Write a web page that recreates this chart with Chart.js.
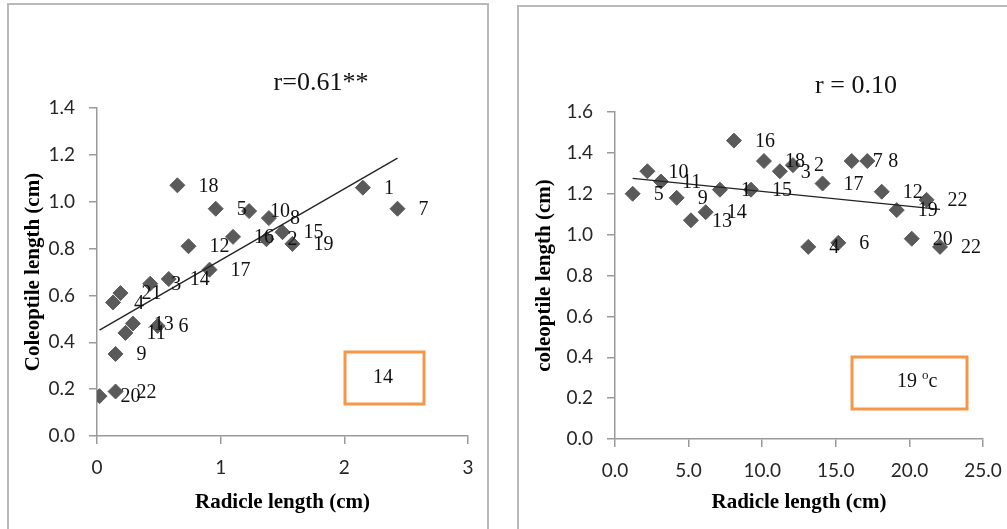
<!DOCTYPE html>
<html>
<head>
<meta charset="utf-8">
<script src="https://cdn.jsdelivr.net/npm/chart.js@4.4.1/dist/chart.umd.min.js"></script>
<style>
  html, body { margin:0; padding:0; background:#fff; width:1007px; height:529px; overflow:hidden; }
  .panel { position:absolute; border:2px solid #b9b9b9; box-sizing:border-box; background:transparent; }
  canvas { position:absolute; top:0; }
</style>
</head>
<body>
<div class="panel" style="left:7px; top:3px; width:482px; height:600px;"></div>
<div class="panel" style="left:517px; top:5px; width:600px; height:600px;"></div>
<canvas id="c1" width="500" height="529" style="left:0px;"></canvas>
<canvas id="c2" width="507" height="529" style="left:500px;"></canvas>
<script>
// ---------- Left panel data (14) ----------
const leftLabels = ['1','2','3','4','5','6','7','8','9','10','11','12','13','14','15','16','17','18','19','20','21','22'];
const leftRadicle = [2.15,1.37,0.43,0.13,0.96,0.49,2.43,1.39,0.15,1.23,0.23,0.74,0.29,0.58,1.50,1.10,0.91,0.65,1.58,0.02,0.19,0.15];
const leftColeoptile = [1.06,0.84,0.65,0.57,0.97,0.47,0.97,0.93,0.35,0.96,0.44,0.81,0.48,0.67,0.87,0.85,0.71,1.07,0.82,0.17,0.61,0.19];
const leftTrendX = [0.02, 2.43];
const leftTrendY = [0.452, 1.186];
const leftXTicks = [0, 1, 2, 3];
const leftYTicks = [0, 0.2, 0.4, 0.6, 0.8, 1.0, 1.2, 1.4];

// ---------- Right panel data (19 ºc) ----------
const rightLabels = ['5','10','11','9','13','14','1','15','16','18','3','2','17','7','8','12','22','19','4','6','20','22'];
const rightRadicle = [1.2,2.2,3.12,4.19,5.16,6.16,7.13,9.24,8.08,10.12,11.2,12.09,14.1,16.08,17.14,18.12,21.17,19.14,13.13,15.17,20.16,22.08];
const rightColeoptile = [1.20,1.31,1.26,1.18,1.07,1.11,1.22,1.22,1.46,1.36,1.31,1.34,1.25,1.36,1.36,1.21,1.17,1.12,0.94,0.96,0.98,0.94];
const rightTrendX = [1.2, 22.08];
const rightTrendY = [1.275, 1.124];
const rightXTicks = [0, 5, 10, 15, 20, 25];
const rightYTicks = [0, 0.2, 0.4, 0.6, 0.8, 1.0, 1.2, 1.4, 1.6];

const AXIS_COLOR = '#9a9a9a';
const TICK_FONT = { family: 'Lato', size: 19 };
const TITLE_FONT = { family: 'Liberation Serif', size: 21, weight: 'bold' };

function toPoints(xs, ys) { return xs.map((x, i) => ({ x: x, y: ys[i] })); }

const pointLabelPlugin = {
  id: 'pointLabels',
  afterDatasetsDraw(chart) {
    const ctx = chart.ctx;
    chart.data.datasets.forEach((ds, di) => {
      if (!ds.pointLabels) return;
      const meta = chart.getDatasetMeta(di);
      ctx.save();
      ctx.font = '20px "Liberation Serif"';
      ctx.fillStyle = '#111';
      ctx.textAlign = 'left';
      ctx.textBaseline = 'middle';
      meta.data.forEach((el, i) => {
        ctx.fillText(ds.pointLabels[i], el.x + 21, el.y + 1);
      });
      ctx.restore();
    });
  }
};

const annotationPlugin = {
  id: 'notes',
  afterDraw(chart, args, opts) {
    const ctx = chart.ctx;
    ctx.save();
    ctx.font = '26px "Liberation Serif"';
    ctx.fillStyle = '#111';
    ctx.textAlign = 'center';
    ctx.textBaseline = 'middle';
    ctx.fillText(opts.rText, opts.rX, opts.rY);
    ctx.strokeStyle = '#F79646';
    ctx.lineWidth = 3;
    ctx.strokeRect(opts.box[0], opts.box[1], opts.box[2], opts.box[3]);
    ctx.font = '20px "Liberation Serif"';
    ctx.textAlign = 'left';
    let x = opts.boxTextX;
    const y = opts.boxTextY;
    ctx.fillText(opts.boxText, x, y);
    if (opts.boxSup) {
      x += ctx.measureText(opts.boxText).width;
      ctx.font = '13px "Liberation Serif"';
      ctx.fillText(opts.boxSup, x, y - 6);
      x += ctx.measureText(opts.boxSup).width;
      ctx.font = '20px "Liberation Serif"';
      ctx.fillText(opts.boxTail, x, y);
    }
    ctx.restore();
  }
};

function makeChart(id, cfg) {
  return new Chart(document.getElementById(id), {
    type: 'scatter',
    data: {
      datasets: [
        {
          data: toPoints(cfg.xs, cfg.ys),
          pointLabels: cfg.labels,
          pointStyle: 'rectRot',
          pointRadius: 7.5,
          pointBackgroundColor: '#5a5a5a',
          pointBorderColor: '#5a5a5a',
          pointBorderWidth: 1,
          showLine: false,
          order: 1
        },
        {
          type: 'line',
          data: toPoints(cfg.tx, cfg.ty),
          borderColor: '#222',
          borderWidth: 1.3,
          pointRadius: 0,
          showLine: true,
          fill: false,
          order: 0
        }
      ]
    },
    options: {
      responsive: false,
      animation: false,
      events: [],
      layout: { padding: { left: 0, top: cfg.top, right: cfg.right, bottom: 0 } },
      plugins: {
        legend: { display: false },
        tooltip: { enabled: false },
        notes: cfg.notes
      },
      scales: {
        x: {
          type: 'linear',
          min: cfg.xTicks[0], max: cfg.xTicks[cfg.xTicks.length - 1],
          afterBuildTicks: (s) => { s.ticks = cfg.xTicks.map(v => ({ value: v })); },
          afterFit: (s) => { s.height = cfg.xHeight; s.paddingLeft = 0; s.paddingRight = 0; },
          border: { display: true, color: AXIS_COLOR, width: 1.5 },
          grid: { display: true, drawOnChartArea: false, drawTicks: true, tickLength: 8, color: AXIS_COLOR, lineWidth: 1.5 },
          ticks: { font: TICK_FONT, color: '#262626', padding: 12, maxRotation: 0, autoSkip: false,
                   callback: (v) => cfg.xFmt(v) },
          title: { display: true, text: 'Radicle length (cm)', font: TITLE_FONT, color: '#000',
                   padding: { top: 0, bottom: 14 } }
        },
        y: {
          type: 'linear',
          min: cfg.yTicks[0], max: cfg.yTicks[cfg.yTicks.length - 1],
          afterBuildTicks: (s) => { s.ticks = cfg.yTicks.map(v => ({ value: v })); },
          afterFit: (s) => { s.width = cfg.yWidth; s.paddingTop = 0; s.paddingBottom = 0; },
          border: { display: true, color: AXIS_COLOR, width: 1.5 },
          grid: { display: true, drawOnChartArea: false, drawTicks: true, tickLength: 8, color: AXIS_COLOR, lineWidth: 1.5 },
          ticks: { font: TICK_FONT, color: '#262626', padding: 14, autoSkip: false,
                   callback: (v) => Number(v).toFixed(1) },
          title: { display: true, text: cfg.yTitle, font: TITLE_FONT, color: '#000',
                   padding: { top: cfg.yTitlePad, bottom: 0 } }
        }
      }
    },
    plugins: [pointLabelPlugin, annotationPlugin]
  });
}

makeChart('c1', {
  xs: leftRadicle, ys: leftColeoptile, labels: leftLabels,
  tx: leftTrendX, ty: leftTrendY,
  xTicks: leftXTicks, yTicks: leftYTicks,
  xFmt: (v) => String(v),
  top: 108, right: 32, xHeight: 93, yWidth: 97,
  yTitle: 'Coleoptile length (cm)', yTitlePad: 21,
  notes: { rText: 'r=0.61**', rX: 321, rY: 83, box: [345, 352, 79, 52],
           boxText: '14', boxTextX: 373, boxTextY: 378 }
});

makeChart('c2', {
  xs: rightRadicle, ys: rightColeoptile, labels: rightLabels,
  tx: rightTrendX, ty: rightTrendY,
  xTicks: rightXTicks, yTicks: rightYTicks,
  xFmt: (v) => Number(v).toFixed(1),
  top: 112, right: 24, xHeight: 90, yWidth: 115,
  yTitle: 'coleoptile length (cm)', yTitlePad: 32,
  notes: { rText: 'r = 0.10', rX: 356, rY: 86, box: [352, 357, 115, 52],
           boxText: '19 ', boxSup: 'o', boxTail: 'c', boxTextX: 397, boxTextY: 382 }
});
</script>
</body>
</html>
